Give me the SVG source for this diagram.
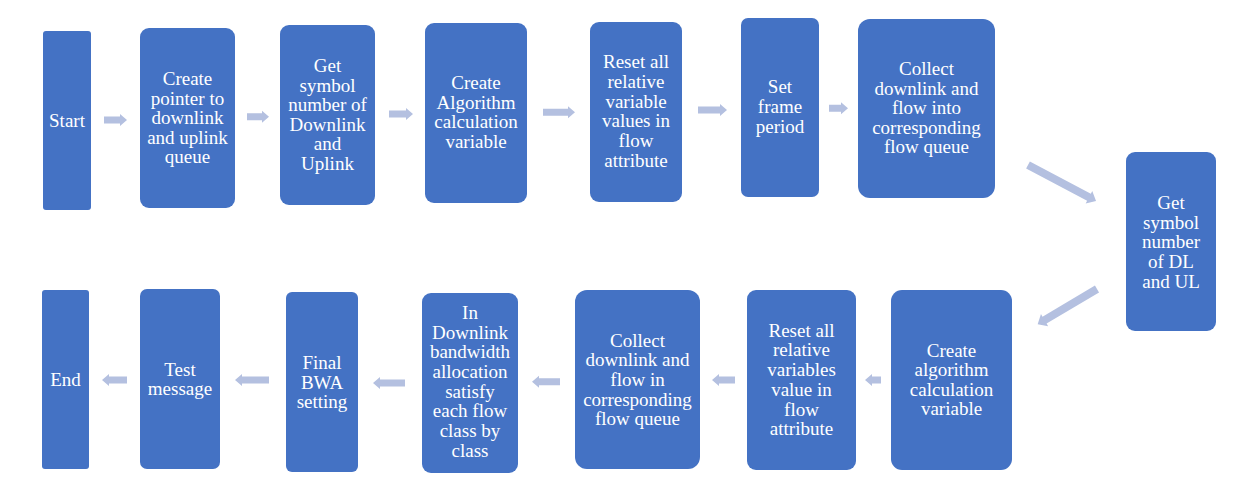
<svg xmlns="http://www.w3.org/2000/svg" width="1250" height="491" viewBox="0 0 1250 491">
<style>
.box{fill:#4472C4}
.t{font-family:'Liberation Serif','Times New Roman',serif;font-size:19px;fill:#FFFFFF;text-anchor:middle}
.ar{fill:#B4C0E0}
</style>
<rect width="1250" height="491" fill="#FFFFFF"/>
<g id="n-start"><rect class="box" x="43" y="31" width="48" height="179" rx="3"/><text class="t" x="67" y="127">Start</text></g>
<g id="n-pointer"><rect class="box" x="140" y="28" width="95" height="180" rx="9"/><text class="t"><tspan x="187.5" y="85">Create</tspan><tspan x="187.5" y="104.5">pointer to</tspan><tspan x="187.5" y="124">downlink</tspan><tspan x="187.5" y="143.5">and uplink</tspan><tspan x="187.5" y="163">queue</tspan></text></g>
<g id="n-symbol"><rect class="box" x="280" y="25" width="95" height="180" rx="9"/><text class="t"><tspan x="327.5" y="72">Get</tspan><tspan x="327.5" y="91.5">symbol</tspan><tspan x="327.5" y="111">number of</tspan><tspan x="327.5" y="130.5">Downlink</tspan><tspan x="327.5" y="150">and</tspan><tspan x="327.5" y="169.5">Uplink</tspan></text></g>
<g id="n-algo"><rect class="box" x="425" y="23" width="102" height="180" rx="9"/><text class="t"><tspan x="476" y="89">Create</tspan><tspan x="476" y="108.7">Algorithm</tspan><tspan x="476" y="128.3">calculation</tspan><tspan x="476" y="148">variable</tspan></text></g>
<g id="n-reset"><rect class="box" x="590" y="22" width="92" height="180" rx="9"/><text class="t"><tspan x="636" y="68">Reset all</tspan><tspan x="636" y="87.8">relative</tspan><tspan x="636" y="107.6">variable</tspan><tspan x="636" y="127.4">values in</tspan><tspan x="636" y="147.2">flow</tspan><tspan x="636" y="167">attribute</tspan></text></g>
<g id="n-frame"><rect class="box" x="741" y="18" width="78" height="179" rx="7"/><text class="t"><tspan x="780" y="93.3">Set</tspan><tspan x="780" y="113">frame</tspan><tspan x="780" y="133">period</tspan></text></g>
<g id="n-collect"><rect class="box" x="858" y="19" width="137" height="179" rx="12"/><text class="t"><tspan x="926.5" y="75">Collect</tspan><tspan x="926.5" y="94.6">downlink and</tspan><tspan x="926.5" y="114.2">flow into</tspan><tspan x="926.5" y="133.8">corresponding</tspan><tspan x="926.5" y="153.4">flow queue</tspan></text></g>
<g id="n-dlul"><rect class="box" x="1126" y="152" width="90" height="179" rx="9"/><text class="t"><tspan x="1171" y="209">Get</tspan><tspan x="1171" y="228.7">symbol</tspan><tspan x="1171" y="248.4">number</tspan><tspan x="1171" y="268">of DL</tspan><tspan x="1171" y="287.7">and UL</tspan></text></g>
<g id="n-algo2"><rect class="box" x="891" y="290" width="121" height="180" rx="11"/><text class="t"><tspan x="951.5" y="356.7">Create</tspan><tspan x="951.5" y="376.2">algorithm</tspan><tspan x="951.5" y="395.7">calculation</tspan><tspan x="951.5" y="415.2">variable</tspan></text></g>
<g id="n-reset2"><rect class="box" x="747" y="290" width="109" height="180" rx="9"/><text class="t"><tspan x="801.5" y="336.7">Reset all</tspan><tspan x="801.5" y="356.4">relative</tspan><tspan x="801.5" y="376.1">variables</tspan><tspan x="801.5" y="395.8">value in</tspan><tspan x="801.5" y="415.5">flow</tspan><tspan x="801.5" y="435.2">attribute</tspan></text></g>
<g id="n-collect2"><rect class="box" x="575" y="290" width="125" height="179" rx="12"/><text class="t"><tspan x="637.5" y="346.7">Collect</tspan><tspan x="637.5" y="366.3">downlink and</tspan><tspan x="637.5" y="385.9">flow in</tspan><tspan x="637.5" y="405.5">corresponding</tspan><tspan x="637.5" y="425.1">flow queue</tspan></text></g>
<g id="n-bwa"><rect class="box" x="422" y="293" width="96" height="180" rx="9"/><text class="t"><tspan x="470" y="319">In</tspan><tspan x="470" y="338.7">Downlink</tspan><tspan x="470" y="358.3">bandwidth</tspan><tspan x="470" y="378">allocation</tspan><tspan x="470" y="397.7">satisfy</tspan><tspan x="470" y="417.4">each flow</tspan><tspan x="470" y="437">class by</tspan><tspan x="470" y="456.7">class</tspan></text></g>
<g id="n-final"><rect class="box" x="286" y="292" width="72" height="180" rx="6"/><text class="t"><tspan x="322" y="369">Final</tspan><tspan x="322" y="388.6">BWA</tspan><tspan x="322" y="408.3">setting</tspan></text></g>
<g id="n-test"><rect class="box" x="140" y="289" width="80" height="180" rx="7"/><text class="t"><tspan x="180" y="375.7">Test</tspan><tspan x="180" y="395.2">message</tspan></text></g>
<g id="n-end"><rect class="box" x="42" y="290" width="47" height="179" rx="3"/><text class="t" x="65.5" y="386">End</text></g>
<g id="connectors">
<polygon class="ar" points="104,116.5 120,116.5 120,114 127,120 120,126 120,123.5 104,123.5"/>
<polygon class="ar" points="247,113.2 262,113.2 262,110.7 269,116.7 262,122.7 262,120.2 247,120.2"/>
<polygon class="ar" points="389,110.5 406,110.5 406,108 413,114 406,120 406,117.5 389,117.5"/>
<polygon class="ar" points="543,108.8 568,108.8 568,106.3 575,112.3 568,118.3 568,115.8 543,115.8"/>
<polygon class="ar" points="698,106.5 720,106.5 720,104 727,110 720,116 720,113.5 698,113.5"/>
<polygon class="ar" points="829,104.8 841,104.8 841,102.3 848,108.3 841,114.3 841,111.8 829,111.8"/>
<polygon class="ar" transform="translate(1028,165) rotate(27.9)" points="0,-4 69,-4 69,-7 77,0 69,7 69,4 0,4"/>
<polygon class="ar" transform="translate(1097,289) rotate(149.3)" points="0,-4 61,-4 61,-7 69,0 61,7 61,4 0,4"/>
<polygon class="ar" points="881,376.5 872,376.5 872,374 865,380 872,386 872,383.5 881,383.5"/>
<polygon class="ar" points="735,376.5 719,376.5 719,374 712,380 719,386 719,383.5 735,383.5"/>
<polygon class="ar" points="560,378.2 539,378.2 539,375.7 532,381.7 539,387.7 539,385.2 560,385.2"/>
<polygon class="ar" points="405,379.5 380,379.5 380,377 373,383 380,389 380,386.5 405,386.5"/>
<polygon class="ar" points="269,376.5 242,376.5 242,374 235,380 242,386 242,383.5 269,383.5"/>
<polygon class="ar" points="127,376.5 109,376.5 109,374 102,380 109,386 109,383.5 127,383.5"/>
</g>
</svg>
